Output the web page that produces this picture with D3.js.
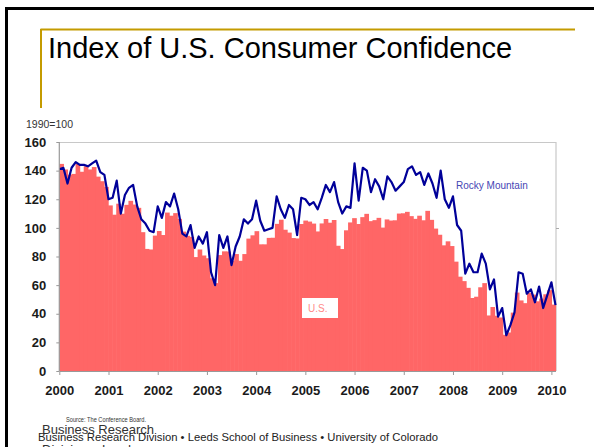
<!DOCTYPE html>
<html>
<head>
<meta charset="utf-8">
<script src="https://cdn.jsdelivr.net/npm/d3@7"></script>
<style>
  body { margin: 0; background: #fff; }
  svg { display: block; font-family: "Liberation Sans", Arial, sans-serif; }
</style>
</head>
<body>
<div id="content"></div>
<script>
// years on the axis and the month names used to build the categories
var years = ["2000", "2001", "2002", "2003", "2004", "2005", "2006", "2007", "2008", "2009", "2010"];
var monthNames = ["Jan", "Feb", "Mar", "Apr", "May", "Jun", "Jul", "Aug", "Sep", "Oct", "Nov", "Dec"];

// U.S. index (bars), Jan 2000 - Feb 2010
var usValues = [
  144.7, 140.8, 137.1, 137.7, 144.7, 139.2, 143.0, 140.8, 142.5, 135.8, 132.6, 128.6,
  115.7, 109.2, 116.9, 109.9, 116.1, 118.9, 116.3, 114.0, 97.0, 85.3, 84.9, 94.6,
  97.8, 95.0, 110.7, 108.5, 110.3, 106.3, 97.4, 94.5, 93.7, 79.6, 84.9, 80.7,
  78.8, 64.8, 61.4, 81.0, 83.6, 83.5, 77.0, 81.7, 77.0, 81.7, 92.5, 94.8,
  97.7, 88.5, 88.5, 93.0, 93.1, 102.8, 105.7, 98.7, 96.7, 92.9, 92.6, 102.7,
  105.1, 104.4, 103.0, 97.5, 103.1, 106.2, 103.6, 105.5, 87.5, 85.2, 98.3, 103.8,
  106.8, 102.7, 107.5, 109.8, 104.7, 105.4, 107.0, 100.2, 105.9, 105.1, 105.3, 110.0,
  110.2, 111.2, 108.2, 106.3, 108.5, 105.3, 111.9, 105.6, 99.5, 95.2, 87.8, 90.6,
  87.3, 76.4, 65.9, 62.8, 58.1, 51.0, 51.9, 58.5, 61.4, 38.8, 44.7, 38.6,
  37.4, 25.3, 26.9, 40.8, 54.8, 49.3, 47.4, 54.5, 53.4, 48.7, 50.6, 53.6,
  56.5, 46.4
];

// Rocky Mountain index (line)
var rockyValues = [
  141, 142, 131, 142, 146, 144, 144, 143, 145, 147, 139, 137,
  120, 121, 133, 110, 123, 128, 130, 115, 106, 103, 98, 97,
  115, 107, 118, 115, 124, 113, 96, 94, 102, 86, 94, 89,
  97, 69, 60, 95, 86, 94, 74, 87, 94, 106, 103, 106,
  119, 105, 98, 99, 100, 122, 113, 107, 116, 113, 95, 121,
  120, 116, 118, 113, 121, 130, 125, 132, 118, 110, 115, 114,
  145, 119, 142, 140, 125, 134, 129, 120, 136, 132, 126, 129,
  132, 141, 143, 137, 139, 130, 138, 131, 121, 140, 120, 114,
  122, 102, 98, 68, 75, 69, 69, 82, 75, 57, 64, 38,
  44, 25, 32, 41, 69, 68, 54, 57, 48, 59, 44, 53,
  62, 46
];

var yTicks = [0, 20, 40, 60, 80, 100, 120, 140, 160];

var months = years.flatMap(function (y) {
  return monthNames.map(function (m) { return m + " " + y; });
}).slice(0, usValues.length);

var W = 594, H = 447;
var plot = { left: 59.3, right: 555.5, top: 142, bottom: 371 };

var svg = d3.select("#content").append("svg")
    .attr("width", W)
    .attr("height", H);

svg.append("rect").attr("width", W).attr("height", H).attr("fill", "#fff");

// slide frame
svg.append("rect")
    .attr("x", 6.5).attr("y", 8.5)
    .attr("width", W + 10).attr("height", H + 10)
    .attr("fill", "none")
    .attr("stroke", "#000")
    .attr("stroke-width", 3);

// gold rules of the slide title
svg.append("line")
    .attr("x1", 40.5).attr("x2", 575).attr("y1", 29.5).attr("y2", 29.5)
    .attr("stroke", "#c49b00").attr("stroke-width", 2);
svg.append("line")
    .attr("x1", 41).attr("x2", 41).attr("y1", 29).attr("y2", 108)
    .attr("stroke", "#c49b00").attr("stroke-width", 2);

svg.append("text")
    .attr("x", 48).attr("y", 58)
    .style("font-size", "29px")
    .attr("fill", "#000")
    .text("Index of U.S. Consumer Confidence");

// scales
var xBand = d3.scaleBand().domain(months).range([plot.left, plot.right]).padding(0);
var xPoint = d3.scalePoint().domain(months).range([plot.left, plot.right]).padding(0);
var y = d3.scaleLinear().domain([0, 160]).range([plot.bottom, plot.top]);

// plot frame (top and right)
svg.append("path")
    .attr("d", "M" + plot.left + "," + (plot.top + 0.5) + "H" + (plot.right + 0.5) + "V" + plot.bottom)
    .attr("fill", "none")
    .attr("stroke", "#c8c8c8")
    .attr("stroke-width", 1.2);
svg.append("line")
    .attr("x1", plot.right + 0.5).attr("x2", plot.right + 3.5)
    .attr("y1", Math.round(y(100)) + 0.5).attr("y2", Math.round(y(100)) + 0.5)
    .attr("stroke", "#aaa");

// bars
svg.append("g").selectAll("rect")
    .data(usValues)
    .join("rect")
    .attr("x", function (d, i) { return xBand(months[i]); })
    .attr("width", xBand.bandwidth() + 0.6)
    .attr("y", function (d) { return y(d); })
    .attr("height", function (d) { return y(0) - y(d); })
    .attr("fill", "#ff6666");

// rocky mountain line
var line = d3.line()
    .x(function (d, i) { return xPoint(months[i]); })
    .y(function (d) { return y(d); });

svg.append("path")
    .datum(rockyValues)
    .attr("d", line)
    .attr("fill", "none")
    .attr("stroke", "#000099")
    .attr("stroke-width", 2.2)
    .attr("stroke-linejoin", "round");

// axes
var yAxis = d3.axisLeft(y).tickValues(yTicks).tickSize(3).tickPadding(10);
var gy = svg.append("g")
    .attr("transform", "translate(" + plot.left + ",0)")
    .call(yAxis);

var xAxis = d3.axisBottom(xPoint)
    .tickValues(years.map(function (yr) { return "Jan " + yr; }))
    .tickFormat(function (d) { return d.slice(4); })
    .tickSize(4).tickSizeOuter(0).tickPadding(11);
var gx = svg.append("g")
    .attr("transform", "translate(0," + plot.bottom + ")")
    .call(xAxis);

[gx, gy].forEach(function (g) {
  g.select(".domain").attr("stroke", "#999").attr("stroke-width", 1.2);
  g.selectAll(".tick line").attr("stroke", "#999");
  g.selectAll(".tick text")
      .attr("fill", "#1a1a1a")
      .style("font-size", "13px")
      .style("font-weight", "bold")
      .style("font-family", "'Liberation Sans', Arial, sans-serif");
});
gy.select(".domain").attr("d", "M0," + plot.bottom + "V" + plot.top);

svg.append("text")
    .attr("x", 26).attr("y", 128)
    .style("font-size", "10.5px")
    .attr("fill", "#333")
    .text("1990=100");

// series labels
svg.append("text")
    .attr("x", 456).attr("y", 189)
    .style("font-size", "10px")
    .attr("fill", "#4646b4")
    .text("Rocky Mountain");

svg.append("rect")
    .attr("x", 302).attr("y", 298)
    .attr("width", 36).attr("height", 20)
    .attr("fill", "#fff");
svg.append("text")
    .attr("x", 308).attr("y", 312)
    .style("font-size", "10px")
    .attr("fill", "#ff8a8a")
    .text("U.S.");

// footer
svg.append("text")
    .attr("x", 66).attr("y", 422)
    .style("font-size", "7px")
    .attr("textLength", 80).attr("lengthAdjust", "spacingAndGlyphs")
    .attr("fill", "#333")
    .text("Source: The Conference Board.");

svg.append("text")
    .attr("x", 42).attr("y", 434)
    .style("font-size", "13px")
    .attr("fill", "#333")
    .text("Business Research");

svg.append("text")
    .attr("x", 42).attr("y", 454)
    .style("font-size", "13px")
    .attr("fill", "#333")
    .text("Division \u2013 Leeds");

svg.append("text")
    .attr("x", 38).attr("y", 441)
    .style("font-size", "11px")
    .attr("textLength", 400).attr("lengthAdjust", "spacingAndGlyphs")
    .attr("fill", "#222")
    .text("Business Research Division \u2022 Leeds School of Business \u2022 University of Colorado");
</script>
</body>
</html>
